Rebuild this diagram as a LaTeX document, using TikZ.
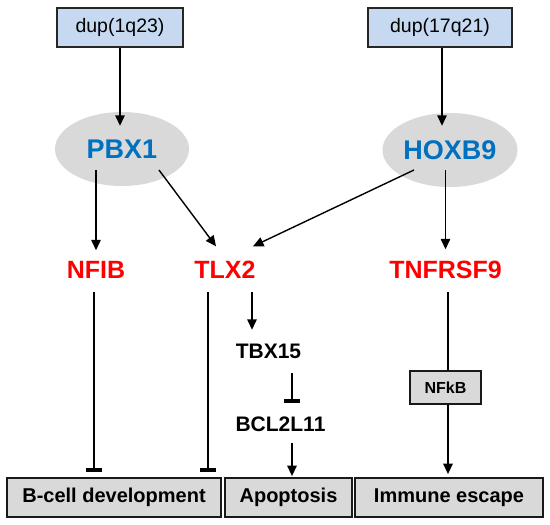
\documentclass[tikz,border=0pt]{standalone}
\usepackage{fontspec}
\setmainfont{Liberation Sans}
\usetikzlibrary{arrows.meta,shapes.geometric,calc}
\definecolor{boxblue}{HTML}{C6D9F1}
\definecolor{boxgray}{HTML}{D9D9D9}
\definecolor{ellgray}{HTML}{D9D9D9}
\definecolor{geneblue}{HTML}{0070C0}
\definecolor{genered}{HTML}{FF0000}
\begin{document}
\begin{tikzpicture}[x=1pt,y=-1pt,
  dupbox/.style={draw=black!85,line width=1.6pt,fill=boxblue,minimum height=39pt,inner sep=0pt,font=\fontsize{19.5}{21}\selectfont},
  tfell/.style={ellipse,fill=ellgray,minimum width=134pt,minimum height=74pt,inner sep=0pt,text=geneblue,font=\fontsize{27}{29}\selectfont\bfseries},
  gene/.style={inner sep=0pt,text height=18pt,text depth=0pt,anchor=base,text=genered,font=\fontsize{25}{27}\selectfont\bfseries},
  subgene/.style={inner sep=0pt,text height=15pt,text depth=0pt,anchor=base,text=black,font=\fontsize{21}{23}\selectfont\bfseries},
  botbox/.style={draw=black!90,line width=1.8pt,fill=boxgray,minimum height=39pt,inner sep=0pt,font=\fontsize{20}{22}\selectfont\bfseries},
  smallbox/.style={draw=black!90,line width=1.6pt,fill=boxgray,minimum height=33pt,minimum width=71pt,inner sep=0pt,font=\fontsize{16}{18}\selectfont\bfseries},
  arr/.style={line width=1.4pt,-{Triangle[length=10.5pt,width=9.5pt]}},
  inh/.style={line width=1.4pt,-{Rectangle[length=4pt,width=16pt]}}
]
\useasboundingbox (0,0) rectangle (550,525);

% top boxes
\node[dupbox,minimum width=126pt] (d1) at (120,27.5) {dup(1q23)};
\node[dupbox,minimum width=144pt] (d2) at (440,27.5) {dup(17q21)};

% ellipses
\node[tfell] (pbx) at (122,149) {PBX1};
\node[tfell,minimum width=135pt] (hox) at (450,150) {HOXB9};

% genes
\node[gene] (nfib) at (96,278.5) {NFIB};
\node[gene] (tlx) at (225,278.5) {TLX2};
\node[gene] (tnf) at (445.5,278.5) {TNFRSF9};
\node[subgene] (tbx) at (268.5,358.5) {TBX15};
\node[subgene] (bcl) at (280.5,431.7) {BCL2L11};

% NFkB
\node[smallbox] (nfkb) at (445.5,387.5) {NFkB};

% bottom boxes
\node[botbox,minimum width=214pt] (bcd) at (114,497.5) {B-cell development};
\node[botbox,minimum width=127pt] (apo) at (288.5,497.5) {Apoptosis};
\node[botbox,minimum width=188pt] (imm) at (449,497.5) {Immune escape};

% connectors
\draw[arr,shorten >=-14pt] (d1.south) -- (d1.south |- pbx.north);
\draw[arr,shorten >=-13pt] ([xshift=2pt]d2.south) -- ([xshift=2pt]d2.south |- hox.north);

\draw[arr,shorten >=10pt] ([yshift=-21pt]pbx.center -| nfib.north) -- (nfib.north);
\draw[arr] ([xshift=37pt,yshift=-21pt]pbx.center) -- ([xshift=-9pt,yshift=14pt]tlx.north);
\draw[arr] ([xshift=-36pt,yshift=-20pt]hox.center) -- ([xshift=28pt,yshift=14pt]tlx.north);
\draw[arr,shorten >=11pt] ([yshift=-20pt]hox.center -| tnf.north) -- (tnf.north);

\draw[inh,shorten <=13.5pt,shorten >=5pt] ([xshift=-2pt]nfib.south) -- ([xshift=-2pt]nfib.south |- bcd.north);
\draw[inh,shorten <=13.5pt,shorten >=5pt] ([xshift=-17pt]tlx.south) -- ([xshift=-17pt]tlx.south |- bcd.north);

\draw[arr,shorten <=13.5pt,shorten >=13.5pt] ([xshift=27pt]tlx.south) -- ([xshift=27pt]tlx.south |- tbx.north);
\draw[inh,shorten <=14.5pt,shorten >=14pt] ([xshift=11.5pt]bcl.north |- tbx.south) -- ([xshift=11.5pt]bcl.north);
\draw[arr,shorten <=11.5pt,shorten >=1pt] ([xshift=11.5pt]bcl.south) -- ([xshift=11.5pt]bcl.south |- apo.north);

\draw[line width=1.4pt,shorten <=13.5pt] ([xshift=2.5pt]tnf.south) -- ([xshift=2.5pt]tnf.south |- nfkb.north);
\draw[arr,shorten >=3pt] ([xshift=2.5pt]nfkb.south) -- ([xshift=2.5pt]nfkb.south |- imm.north);
\end{tikzpicture}
\end{document}
